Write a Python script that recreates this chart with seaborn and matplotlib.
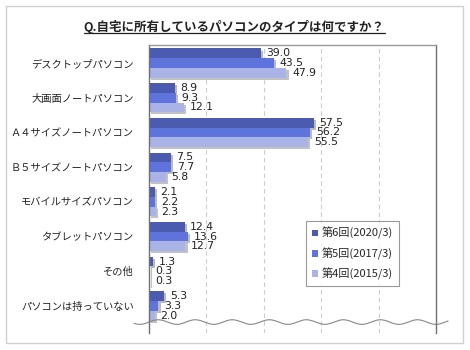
import numpy as np
import pandas as pd
import matplotlib.pyplot as plt
import matplotlib.patheffects as pe
from matplotlib.lines import Line2D
from matplotlib.patches import Rectangle
import seaborn as sns

categories = ["デスクトップパソコン", "大画面ノートパソコン", "Ａ４サイズノートパソコン",
              "Ｂ５サイズノートパソコン", "モバイルサイズパソコン", "タブレットパソコン",
              "その他", "パソコンは持っていない"]
surveys = ["第6回(2020/3)", "第5回(2017/3)", "第4回(2015/3)"]
v2020 = [39.0, 8.9, 57.5, 7.5, 2.1, 12.4, 1.3, 5.3]
v2017 = [43.5, 9.3, 56.2, 7.7, 2.2, 13.6, 0.3, 3.3]
v2015 = [47.9, 12.1, 55.5, 5.8, 2.3, 12.7, 0.3, 2.0]
colors = ["#4a5bb0", "#5e74dc", "#aab3e6"]

df = pd.DataFrame({
    "category": categories * 3,
    "survey": np.repeat(surveys, len(categories)),
    "value": v2020 + v2017 + v2015,
})

sns.set_style("white")
plt.rcParams["font.family"] = ["Noto Sans CJK JP", "DejaVu Sans"]

fig = plt.figure(figsize=(4.7, 3.5), dpi=100)
ax = fig.add_axes([149/470, 1-333/350, 287/470, 288/350])

sns.barplot(data=df, y="category", x="value", hue="survey", palette=colors,
            width=0.84, orient="h", saturation=1, linewidth=0, ax=ax, legend=True)

shadow = [pe.SimplePatchShadow(offset=(1.5, -1.5), alpha=0.3), pe.Normal()]
for cont in ax.containers:
    for bar in cont:
        bar.set_path_effects(shadow)
    ax.bar_label(cont, fmt="%.1f", padding=4, fontsize=7.8, family="DejaVu Sans",
                 color="#222222")

ax.set_xlim(0, 100)
ax.set_ylim(7.78, -0.52)
ax.set_xticks([20, 40, 60, 80])
ax.set_xticklabels([])
ax.xaxis.grid(True, linestyle=(0, (4, 3)), color="#cccccc", linewidth=0.8)
ax.set_axisbelow(True)
ax.set_xlabel("")
ax.set_ylabel("")
ax.tick_params(axis="both", length=0)
ax.tick_params(axis="y", pad=11, labelsize=7.4, labelcolor="#222222")
ax.spines["bottom"].set_visible(False)
ax.spines["left"].set_color("#707070")
ax.spines["right"].set_color("#707070")
ax.spines["top"].set_color("#999999")
for s in ["left", "right", "top"]:
    ax.spines[s].set_linewidth(1)

leg = ax.legend(loc="upper left", bbox_to_anchor=(0.547, 0.389), borderaxespad=0,
                fontsize=8, frameon=True, fancybox=False, edgecolor="#808080",
                handlelength=0.55, handleheight=0.55, handletextpad=0.35,
                labelspacing=0.72, borderpad=0.55)
leg.get_frame().set_linewidth(0.8)
for h in leg.legend_handles:
    h.set_path_effects([])

# axis-break wave
wx = np.linspace(-0.052, 1.042, 400)
wy = 0.038 + 0.008 * np.sin(2 * np.pi * wx / 0.129)
ax.plot(wx, wy, transform=ax.transAxes, color="#888888", lw=0.8, clip_on=False)

# outer frame
fig.add_artist(Rectangle((6/470, 1-343/350), 457/470, 337/350, transform=fig.transFigure,
                         fill=False, edgecolor="#d0d0d0", lw=1))

t = fig.text(234/470, 1-27/350, "Q.自宅に所有しているパソコンのタイプは何ですか？",
             ha="center", va="center", fontsize=9, fontweight="bold", color="#222222")
fig.canvas.draw()
bb = t.get_window_extent().transformed(fig.transFigure.inverted())
fig.add_artist(Line2D([bb.x0, bb.x1], [1-33/350, 1-33/350], transform=fig.transFigure,
                      color="#222222", lw=0.9))

fig.savefig("out.png", dpi=100)
